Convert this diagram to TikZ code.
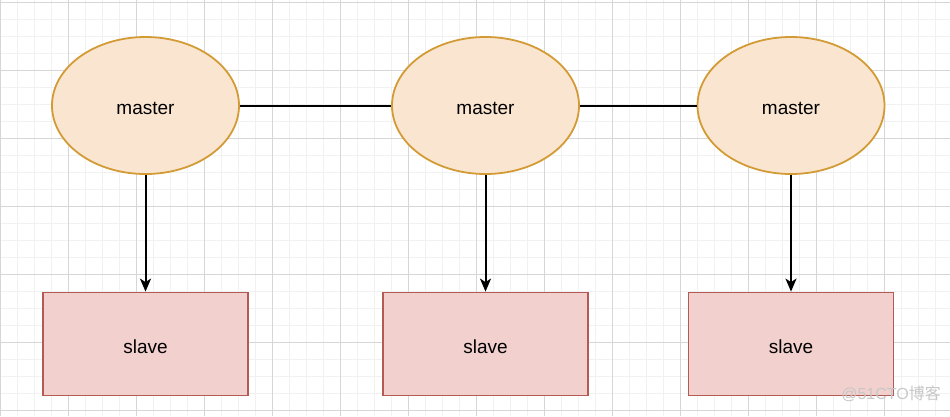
\documentclass[tikz,border=0pt]{standalone}
\usepackage{fontspec}
\setmainfont{Liberation Sans}
\newfontfamily\cjk{Noto Sans CJK SC}
\usetikzlibrary{shapes.geometric,arrows.meta}
\definecolor{mfill}{HTML}{FAE6D0}
\definecolor{mdraw}{HTML}{D39B36}
\definecolor{sfill}{HTML}{F2D0CE}
\definecolor{sdraw}{HTML}{B35A55}
\definecolor{minorc}{HTML}{F1F1F1}
\definecolor{majorc}{HTML}{D6D6D6}
\newcommand{\lowtext}[1]{\raisebox{-2.5pt}[\height][\depth]{#1}}
\begin{document}
\begin{tikzpicture}[x=1pt,y=-1pt,
  masternode/.style={ellipse, draw=mdraw, fill=mfill, line width=1.8pt,
    minimum width=187pt, minimum height=137pt, inner sep=0pt,
    font=\fontsize{19}{22}\selectfont},
  slavenode/.style={rectangle, draw=sdraw, fill=sfill, line width=1.8pt,
    minimum width=205pt, minimum height=103pt, inner sep=0pt,
    font=\fontsize{19}{22}\selectfont},
  link/.style={line width=2pt, black},
  arrowlink/.style={link, -{Stealth[length=13pt,width=11pt,inset=3.5pt]}},
  minorgrid/.style={minorc, line width=1pt},
  majorgrid/.style={majorc, line width=1.1pt}]
\fill[white] (0,0) rectangle (950,416);
\useasboundingbox (0,0) rectangle (950,416);
% minor grid
\foreach \i in {0,...,56} {\draw[minorgrid] ({0.3+\i*17},0) -- ({0.3+\i*17},416);}
\foreach \i in {0,...,25} {\draw[minorgrid] (0,{2.7+\i*17}) -- (950,{2.7+\i*17});}
% major grid
\foreach \i in {0,...,14} {\draw[majorgrid] ({0.3+\i*68},0) -- ({0.3+\i*68},416);}
\foreach \i in {0,...,6} {\draw[majorgrid] (0,{2.7+\i*68}) -- (950,{2.7+\i*68});}

\node[masternode] (m1) at (145.5,105.5) {\lowtext{master}};
\node[masternode] (m2) at (485.5,105.5) {\lowtext{master}};
\node[masternode] (m3) at (791,105.5) {\lowtext{master}};

\node[slavenode] (s1) at (145.5,344) {\lowtext{slave}};
\node[slavenode] (s2) at (485.5,344) {\lowtext{slave}};
\node[slavenode] (s3) at (791,344) {\lowtext{slave}};

\draw[link] (m1.east) -- (m2.west);
\draw[link] (m2.east) -- (m3.west);
\draw[arrowlink] (m1.south) -- (s1.north);
\draw[arrowlink] (m2.south) -- (s2.north);
\draw[arrowlink] (m3.south) -- (s3.north);

\node[text=black!22, font=\fontsize{16}{18}\selectfont, inner sep=0pt, anchor=east] (wm) at (941,394) {@51CTO{\cjk 博客}};
\end{tikzpicture}
\end{document}
